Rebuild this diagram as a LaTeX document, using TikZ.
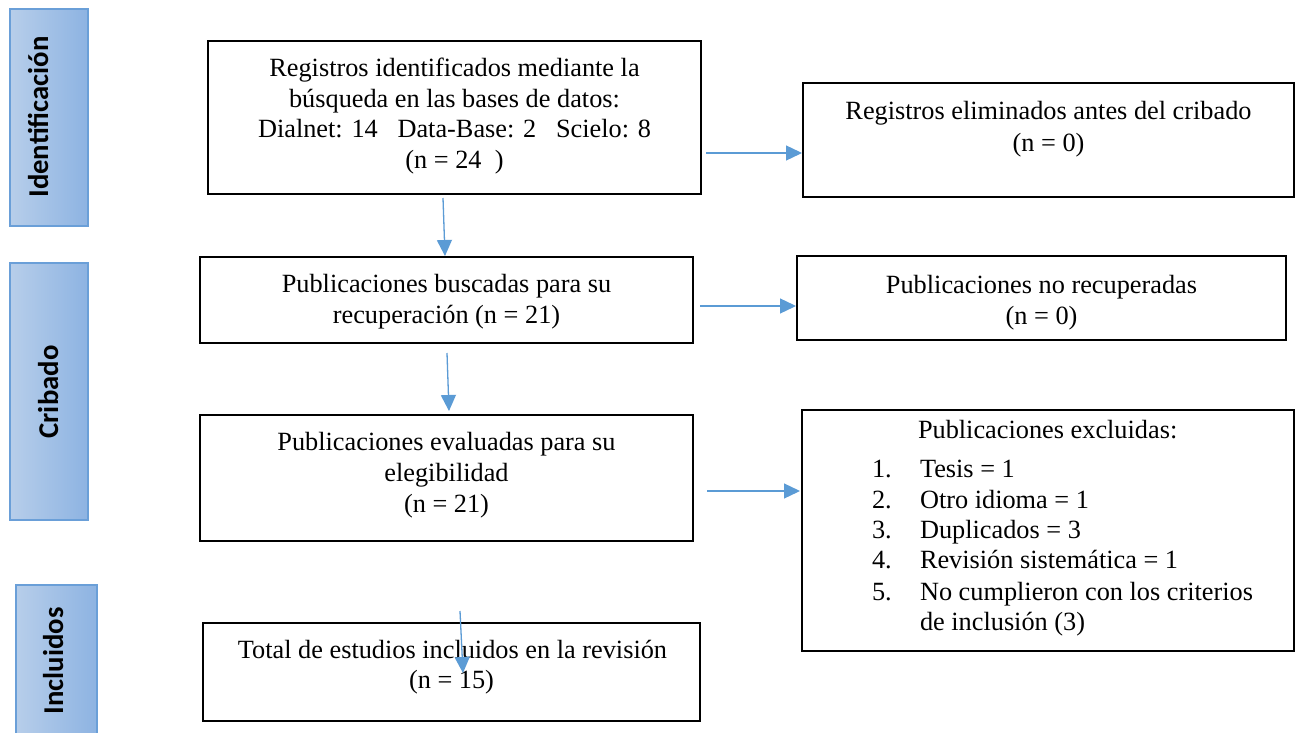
\documentclass[tikz,border=0pt]{standalone}
\usepackage{fontspec}
\setmainfont{Liberation Serif}
\newfontfamily\sidefont{Carlito}
\usetikzlibrary{arrows.meta,calc}
\definecolor{arrowblue}{HTML}{5B9BD5}
\definecolor{barL}{HTML}{B7CEEA}
\definecolor{barR}{HTML}{8DB3E2}
\definecolor{barB}{HTML}{6A9FD8}
\tikzset{
  box/.style={draw=black, line width=1.5pt, inner sep=0pt, outer sep=0pt},
  txt/.style={inner sep=0pt, outer sep=0pt, font=\fontsize{26.3}{30.5}\selectfont},
  sidebar/.style={left color=barL, right color=barR, draw=barB, line width=1.2pt, inner sep=0pt, outer sep=0pt},
  sidelabel/.style={inner sep=0pt, rotate=90, anchor=base, font=\sidefont\bfseries\fontsize{28.7}{34}\selectfont},
  arr/.style={draw=arrowblue, line width=1.3pt, -{Triangle[length=16pt,width=15pt]}}
}
\begin{document}
\begin{tikzpicture}[x=1pt,y=-1pt]
\clip (0,0) rectangle (1301,733);
\fill[white] (0,0) rectangle (1301,733);

% side bars
\node[sidebar, minimum width=78pt, minimum height=217pt] (bar1) at (49,117.5) {};
\node[sidebar, minimum width=78pt, minimum height=257pt] (bar2) at (49,391.5) {};
\node[sidebar, minimum width=81pt, minimum height=160pt] (bar3) at (56.5,665) {};
\node[sidelabel] (lab1) at (48,117) {Identificación};
\node[sidelabel] (lab2) at (58,392) {Cribado};
\node[sidelabel] (lab3) at (63,661) {Incluidos};

% boxes
\node[box, minimum width=493pt, minimum height=153pt] (b1) at (454.5,117.5) {};
\node[box, minimum width=491pt, minimum height=114pt] (r1) at (1048.5,140) {};
\node[box, minimum width=493pt, minimum height=86pt] (b2) at (446.5,300) {};
\node[box, minimum width=489pt, minimum height=84pt] (r2) at (1041.5,298) {};
\node[box, minimum width=493pt, minimum height=126pt] (b3) at (446.5,478) {};
\node[box, minimum width=492pt, minimum height=241pt] (r3) at (1048,530.5) {};
\node[box, minimum width=497pt, minimum height=98pt] (b4) at (451.5,672) {};

% texts box 1
\node[txt, anchor=base] (t1a) at (454.5,77) {Registros identificados mediante la};
\node[txt, anchor=base] (t1b) at (454.5,108) {búsqueda en las bases de datos:};
\node[txt, anchor=base] (t1c) at (454.5,138) {Dialnet: 14\ \ \ Data-Base: 2\ \ \ Scielo: 8};
\node[txt, anchor=base] (t1d) at (454.5,168) {(n = 24\ \ )};
% right 1
\node[txt, anchor=base] (tr1a) at (1048.5,120) {Registros eliminados antes del cribado};
\node[txt, anchor=base] (tr1b) at (1048.5,151) {(n = 0)};
% box 2
\node[txt, anchor=base] (t2a) at (446.5,292) {Publicaciones buscadas para su};
\node[txt, anchor=base] (t2b) at (446.5,323) {recuperación (n = 21)};
% right 2
\node[txt, anchor=base] (tr2a) at (1041.5,293) {Publicaciones no recuperadas};
\node[txt, anchor=base] (tr2b) at (1041.5,324) {(n = 0)};
% box 3
\node[txt, anchor=base] (t3a) at (446.5,450) {Publicaciones evaluadas para su};
\node[txt, anchor=base] (t3b) at (446.5,481) {elegibilidad};
\node[txt, anchor=base] (t3c) at (446.5,512) {(n = 21)};
% right 3
\node[txt, anchor=base west] (tr3h) at (918,438) {Publicaciones excluidas:};
\node[txt, anchor=base west] (n1) at (872,477) {1.};
\node[txt, anchor=base west] (i1) at (920,477) {Tesis = 1};
\node[txt, anchor=base west] (n2) at (872,508) {2.};
\node[txt, anchor=base west] (i2) at (920,508) {Otro idioma = 1};
\node[txt, anchor=base west] (n3) at (872,538) {3.};
\node[txt, anchor=base west] (i3) at (920,538) {Duplicados = 3};
\node[txt, anchor=base west] (n4) at (872,568) {4.};
\node[txt, anchor=base west] (i4) at (920,568) {Revisión sistemática = 1};
\node[txt, anchor=base west] (n5) at (872,600) {5.};
\node[txt, anchor=base west] (i5) at (920,600) {No cumplieron con los criterios};
\node[txt, anchor=base west] (i5b) at (920,630) {de inclusión (3)};
% box 4
\node[txt, anchor=base] (t4a) at (452.5,658) {Total de estudios incluidos en la revisión};
\node[txt, anchor=base] (t4b) at (451.5,688) {(n = 15)};

% arrows
\draw[arr] ($(b1.east)+(5,35.5)$) -- ($(r1.west)+(-1,13)$);
\draw[arr] ($(b1.south)+(-11.5,4)$) -- ($(b2.north)+(-1.5,-1)$);
\draw[arr] ($(b2.east)+(7,6)$) -- ($(r2.west)+(-1,8)$);
\draw[arr] ($(b2.south)+(0.5,10)$) -- ($(b3.north)+(2.5,-4)$);
\draw[arr] ($(b3.east)+(14,13)$) -- ($(r3.west)+(-2,-39.5)$);
\draw[arr] ($(b3.south)+(13.5,70)$) -- ($(b4.north)+(11.5,50)$);
\end{tikzpicture}
\end{document}
